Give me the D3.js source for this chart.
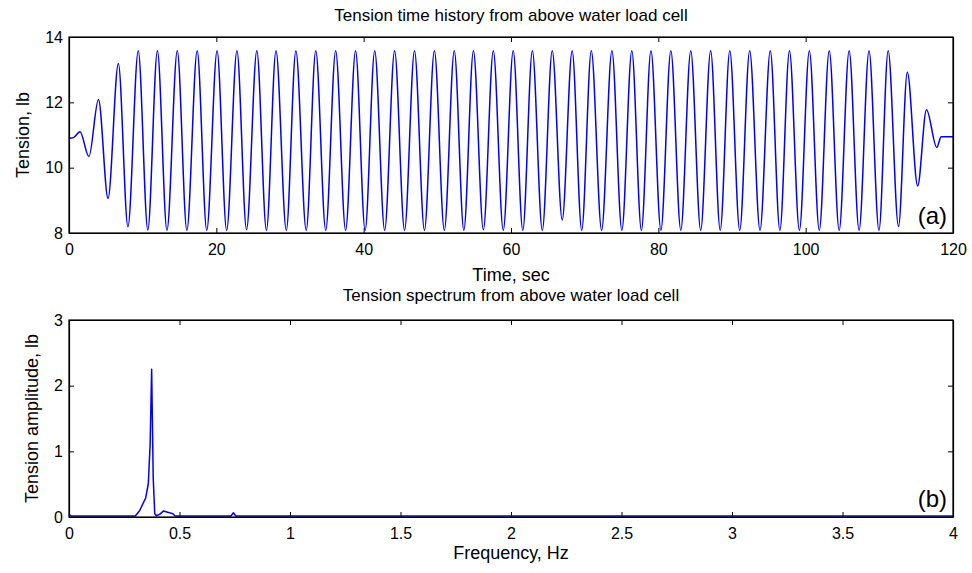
<!DOCTYPE html>
<html>
<head>
<meta charset="utf-8">
<script src="https://cdn.jsdelivr.net/npm/d3@7"></script>
<style>
  html, body { margin: 0; padding: 0; background: #fff; }
  svg { display: block; }
  text { font-family: "Liberation Sans", Arial, sans-serif; fill: #000; }
</style>
</head>
<body>
<svg id="chart" width="972" height="573"></svg>
<script>
// ---------- data ----------
// Panel (a): time history, extremes of the tension signal
const timeSec = [
  0, 0.6, 1.5, 2.7, 4.0, 5.3, 6.7, 8.0, 9.4, 10.7,
  12.0, 13.3, 14.7, 16.0, 17.4, 18.7, 20.1, 21.4, 22.8, 24.1,
  25.5, 26.8, 28.1, 29.5, 30.8, 32.2, 33.5, 34.85, 36.2, 37.55,
  38.9, 40.2, 41.5, 42.85, 44.2, 45.55, 46.9, 48.25, 49.6, 50.95,
  52.3, 53.6, 54.9, 56.25, 57.6, 58.95, 60.3, 61.6, 62.9, 64.25,
  65.6, 66.95, 68.3, 69.6, 70.9, 72.3, 73.7, 75.05, 76.4, 77.7,
  79.0, 80.35, 81.7, 83.05, 84.4, 85.75, 87.1, 88.4, 89.7, 91.05,
  92.4, 93.8, 95.2, 96.5, 97.8, 99.15, 100.5, 101.85, 103.2, 104.55,
  105.9, 107.25, 108.6, 109.95, 111.2, 112.6, 113.8, 115.2, 116.4, 117.8,
  118.4, 120
];
const tensionLb = [
  10.9, 10.92, 11.1, 10.34, 12.09, 9.06, 13.19, 8.19, 13.58, 8.09,
  13.58, 8.08, 13.58, 8.08, 13.58, 8.08, 13.58, 8.08, 13.58, 8.1,
  13.58, 8.08, 13.58, 8.08, 13.58, 8.08, 13.58, 8.08, 13.58, 8.08,
  13.58, 8.08, 13.58, 8.08, 13.58, 8.08, 13.58, 8.08, 13.58, 8.08,
  13.58, 8.08, 13.58, 8.1, 13.58, 8.08, 13.58, 8.08, 13.58, 8.08,
  13.58, 8.4, 13.58, 8.08, 13.58, 8.08, 13.58, 8.08, 13.58, 8.08,
  13.58, 8.08, 13.58, 8.08, 13.58, 8.08, 13.58, 8.08, 13.58, 8.08,
  13.58, 8.08, 13.58, 8.08, 13.58, 8.08, 13.58, 8.08, 13.58, 8.08,
  13.58, 8.08, 13.58, 8.08, 13.58, 8.2, 12.92, 9.44, 11.77, 10.62,
  10.95, 10.95
];

// Panel (b): amplitude spectrum
const freqHz = [
  0, 0.01, 0.1, 0.2, 0.3, 0.32, 0.347, 0.359, 0.367, 0.374,
  0.381, 0.388, 0.395, 0.41, 0.427, 0.45, 0.47, 0.48, 0.6, 0.733,
  0.744, 0.755, 1, 2, 3, 4
];
const amplitudeLb = [
  0.04, 0.015, 0.015, 0.015, 0.015, 0.1, 0.29, 0.51, 1.1, 2.25,
  0.6, 0.05, 0.02, 0.04, 0.09, 0.07, 0.05, 0.015, 0.015, 0.015,
  0.065, 0.015, 0.015, 0.015, 0.015, 0.015
];

// Axis ticks and labels
const timeTicks = [0, 20, 40, 60, 80, 100, 120];
const tensionTicks = [8, 10, 12, 14];
const freqTicks = [0, 0.5, 1, 1.5, 2, 2.5, 3, 3.5, 4];
const ampTicks = [0, 1, 2, 3];

const titleA = "Tension time history from above water load cell";
const titleB = "Tension spectrum from above water load cell";
const xLabelA = "Time, sec";
const yLabelA = "Tension, lb";
const xLabelB = "Frequency, Hz";
const yLabelB = "Tension amplitude, lb";

// ---------- drawing ----------
const svg = d3.select("#chart");
svg.append("rect").attr("width", 972).attr("height", 573).attr("fill", "#fff");

function panel(opts) {
  const { x0, x1, yTop, yBot, xDomain, yDomain, xTicks, yTicks, xs, ys,
          title, titleY, xLabel, xLabelY, yLabel, yLabelX, tag, tagY, curve } = opts;
  const x = d3.scaleLinear().domain(xDomain).range([x0, x1]);
  const y = d3.scaleLinear().domain(yDomain).range([yBot, yTop]);
  const g = svg.append("g");

  const fmt = d => String(d);
  const tick = 5;

  g.append("g").attr("transform", `translate(0,${yBot})`)
    .call(d3.axisBottom(x).tickValues(xTicks).tickFormat(fmt).tickSizeInner(-tick).tickSizeOuter(0).tickPadding(11));
  g.append("g").attr("transform", `translate(0,${yTop})`)
    .call(d3.axisTop(x).tickValues(xTicks).tickFormat("").tickSizeInner(-tick).tickSizeOuter(0));
  g.append("g").attr("transform", `translate(${x0},0)`)
    .call(d3.axisLeft(y).tickValues(yTicks).tickFormat(fmt).tickSizeInner(-tick).tickSizeOuter(0).tickPadding(6));
  g.append("g").attr("transform", `translate(${x1},0)`)
    .call(d3.axisRight(y).tickValues(yTicks).tickFormat("").tickSizeInner(-tick).tickSizeOuter(0));

  g.selectAll(".domain").attr("stroke", "#000").attr("stroke-width", 1.2);
  g.selectAll(".tick line").attr("stroke", "#000").attr("stroke-width", 1);
  g.selectAll(".tick text").attr("font-size", 16).attr("font-family", "Liberation Sans, Arial, sans-serif").attr("fill", "#000");

  const pts = xs.map((v, i) => [v, ys[i]]);
  const line = d3.line().x(d => x(d[0])).y(d => y(d[1])).curve(curve);
  g.append("path").datum(pts)
    .attr("d", line)
    .attr("fill", "none")
    .attr("stroke", "#0000ff")
    .attr("stroke-width", 1.5)
    .attr("stroke-linejoin", "round");

  g.append("rect").attr("x", x0).attr("y", yTop).attr("width", x1 - x0).attr("height", yBot - yTop)
    .attr("fill", "none").attr("stroke", "#000").attr("stroke-width", 1.2);

  g.append("text").attr("x", x1 - 6).attr("y", tagY).attr("text-anchor", "end")
    .attr("font-family", "Liberation Serif, Times New Roman, serif").attr("font-size", 24).text(tag);

  g.append("text").attr("x", (x0 + x1) / 2).attr("y", titleY).attr("text-anchor", "middle")
    .attr("font-size", 17).text(title);
  g.append("text").attr("x", (x0 + x1) / 2).attr("y", xLabelY).attr("text-anchor", "middle")
    .attr("font-size", 18).text(xLabel);
  g.append("text").attr("transform", `translate(${yLabelX},${(yTop + yBot) / 2}) rotate(-90)`)
    .attr("text-anchor", "middle").attr("font-size", 18).text(yLabel);
}

panel({
  x0: 69, x1: 953, yTop: 37, yBot: 233,
  xDomain: [0, 120], yDomain: [8, 14],
  xTicks: timeTicks, yTicks: tensionTicks,
  xs: timeSec, ys: tensionLb,
  title: titleA, titleY: 21,
  xLabel: xLabelA, xLabelY: 281,
  yLabel: yLabelA, yLabelX: 29,
  tag: "(a)", tagY: 224,
  curve: d3.curveMonotoneX
});

panel({
  x0: 69, x1: 953, yTop: 320, yBot: 517,
  xDomain: [0, 4], yDomain: [0, 3],
  xTicks: freqTicks, yTicks: ampTicks,
  xs: freqHz, ys: amplitudeLb,
  title: titleB, titleY: 301,
  xLabel: xLabelB, xLabelY: 559,
  yLabel: yLabelB, yLabelX: 38,
  tag: "(b)", tagY: 507,
  curve: d3.curveLinear
});
</script>
</body>
</html>
